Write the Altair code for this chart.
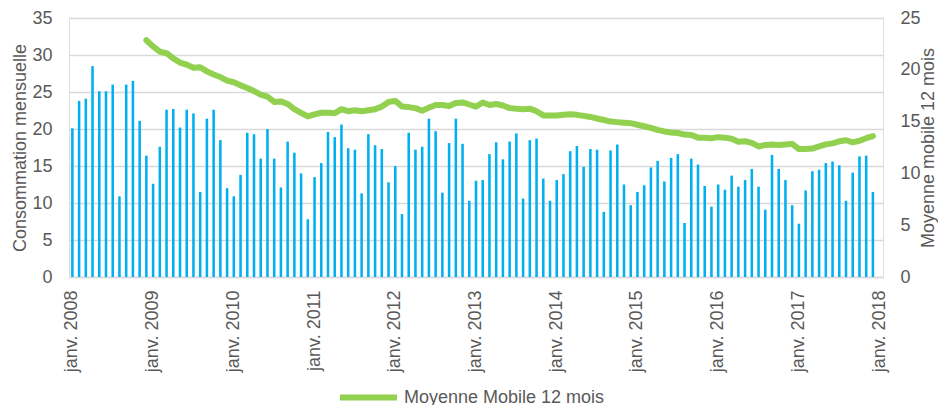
import altair as alt
import pandas as pd

years = list(range(2008, 2018))
month_keys = [f"{y}-{m:02d}" for y in years for m in range(1, 13)]
axis_keys = month_keys + ["2018-01"]
jan_keys = [f"{y}-01" for y in range(2008, 2019)]

consommation = [
    20.1, 23.8, 24.1, 28.5, 25.1, 25.1, 26.0, 10.9, 26.0, 26.5, 21.1, 16.4,
    12.6, 17.6, 22.6, 22.7, 20.2, 22.6, 22.1, 11.5, 21.4, 22.6, 18.5, 12.0,
    10.9, 13.8, 19.5, 19.3, 16.0, 20.0, 16.0, 12.1, 18.3, 16.8, 14.0, 7.8,
    13.5, 15.4, 19.6, 18.9, 20.6, 17.4, 17.2, 11.3, 19.3, 17.8, 17.3, 12.8,
    15.0, 8.5, 19.5, 17.2, 17.6, 21.4, 19.7, 11.4, 18.1, 21.4, 18.0, 10.3,
    13.0, 13.1, 16.6, 18.2, 15.9, 18.3, 19.4, 10.6, 18.5, 18.7, 13.3, 10.3,
    13.1, 13.9, 17.0, 17.7, 14.9, 17.3, 17.2, 8.8, 17.1, 17.9, 12.5, 9.7,
    11.5, 12.4, 14.8, 15.7, 12.9, 16.1, 16.6, 7.3, 16.0, 15.2, 12.3, 9.5,
    12.5, 11.8, 13.7, 12.2, 13.1, 14.6, 12.2, 9.1, 16.5, 14.6, 13.1, 9.7,
    7.2, 11.7, 14.3, 14.5, 15.4, 15.6, 15.1, 10.3, 14.1, 16.3, 16.4, 11.5,
]

# 12-month moving average, from Dec 2008 to Dec 2017 (right axis)
moyenne_mobile = [
    22.85,
    22.25, 21.75, 21.6, 21.1, 20.7, 20.5, 20.2, 20.25, 19.85, 19.55, 19.3, 18.95,
    18.8, 18.5, 18.25, 17.95, 17.6, 17.4, 16.9, 16.95, 16.7, 16.2, 15.85, 15.5,
    15.7, 15.85, 15.85, 15.8, 16.2, 16.0, 16.1, 16.0, 16.1, 16.2, 16.45, 16.9,
    17.0, 16.45, 16.4, 16.3, 16.05, 16.35, 16.6, 16.6, 16.5, 16.8, 16.85, 16.65,
    16.45, 16.85, 16.6, 16.7, 16.55, 16.3, 16.25, 16.2, 16.25, 16.0, 15.6, 15.6,
    15.6, 15.65, 15.7, 15.65, 15.55, 15.45, 15.3, 15.15, 15.0, 14.95, 14.9, 14.85,
    14.7, 14.55, 14.4, 14.2, 14.05, 13.95, 13.9, 13.75, 13.7, 13.45, 13.45, 13.4,
    13.5, 13.45, 13.35, 13.05, 13.1, 12.95, 12.6, 12.75, 12.8, 12.75, 12.8, 12.85,
    12.35, 12.35, 12.4, 12.6, 12.8, 12.9, 13.1, 13.2, 13.0, 13.15, 13.4, 13.6,
]

serie_label = "Moyenne Mobile 12 mois"

bars_df = pd.DataFrame({"mois": month_keys, "conso": consommation})
line_df = pd.DataFrame({
    "mois": month_keys[11:],
    "mm": moyenne_mobile,
    "serie": [serie_label] * len(moyenne_mobile),
})

FONT = "Liberation Sans"
GREY = "#595959"
GRID = "#d9d9d9"

x_scale = alt.Scale(domain=axis_keys, paddingInner=0.62, paddingOuter=0.31)
x_axis = alt.Axis(
    values=jan_keys,
    labelExpr="'janv. ' + substring(datum.value, 0, 4)",
    labelAngle=270,
    labelAlign="right",
    labelBaseline="middle",
    labelPadding=13,
    labelOverlap=False,
    labelFontSize=18,
    labelColor=GREY,
    labelFont=FONT,
    ticks=False,
    grid=False,
    domainColor=GRID,
    domainWidth=1.5,
    title=None,
)

bars = alt.Chart(bars_df).mark_bar(color="#00B0F0").encode(
    x=alt.X("mois:O", scale=x_scale, axis=x_axis),
    y=alt.Y(
        "conso:Q",
        scale=alt.Scale(domain=[0, 35]),
        axis=alt.Axis(
            values=[0, 5, 10, 15, 20, 25, 30, 35],
            title="Consommation mensuelle",
            titleFont=FONT,
            titleFontSize=18,
            titleFontWeight="normal",
            titleColor=GREY,
            titleAngle=270,
            titleAlign="center",
            titleBaseline="alphabetic",
            titleX=-44,
            titleY=129.5,
            labelFont=FONT,
            labelFontSize=18,
            labelColor=GREY,
            labelPadding=17,
            ticks=False,
            domain=False,
            grid=True,
            gridColor=GRID,
            gridWidth=1.5,
        ),
    ),
)

line = alt.Chart(line_df).mark_line(
    strokeWidth=6, strokeCap="round", strokeJoin="round"
).encode(
    x=alt.X("mois:O", scale=x_scale, axis=x_axis, bandPosition=0.5),
    y=alt.Y(
        "mm:Q",
        scale=alt.Scale(domain=[0, 25]),
        axis=alt.Axis(
            orient="right",
            values=[0, 5, 10, 15, 20, 25],
            title="Moyenne mobile 12 mois",
            titleFont=FONT,
            titleFontSize=18,
            titleFontWeight="normal",
            titleColor=GREY,
            titleAngle=270,
            titleAlign="center",
            titleBaseline="alphabetic",
            titleX=50,
            titleY=129.5,
            labelFont=FONT,
            labelFontSize=18,
            labelColor=GREY,
            labelPadding=17,
            ticks=False,
            domain=False,
            grid=False,
        ),
    ),
    stroke=alt.Stroke(
        "serie:N",
        scale=alt.Scale(domain=[serie_label], range=["#92D050"]),
        legend=alt.Legend(
            orient="none",
            legendX=268,
            legendY=348,
            direction="horizontal",
            title=None,
            symbolType="stroke",
            symbolSize=3249,
            symbolStrokeWidth=6,
            labelFont=FONT,
            labelFontSize=18,
            labelColor=GREY,
            labelOffset=4,
            labelLimit=400,
        ),
    ),
)

chart = alt.layer(bars, line).resolve_scale(y="independent").properties(
    width=814,
    height=259,
    autosize=alt.AutoSizeParams(type="none"),
    padding={"left": 61, "top": 10, "right": 55, "bottom": 128},
).configure_view(stroke=None).configure(background="white")

chart.save("out.html", embed_options={"renderer": "svg", "actions": False})
